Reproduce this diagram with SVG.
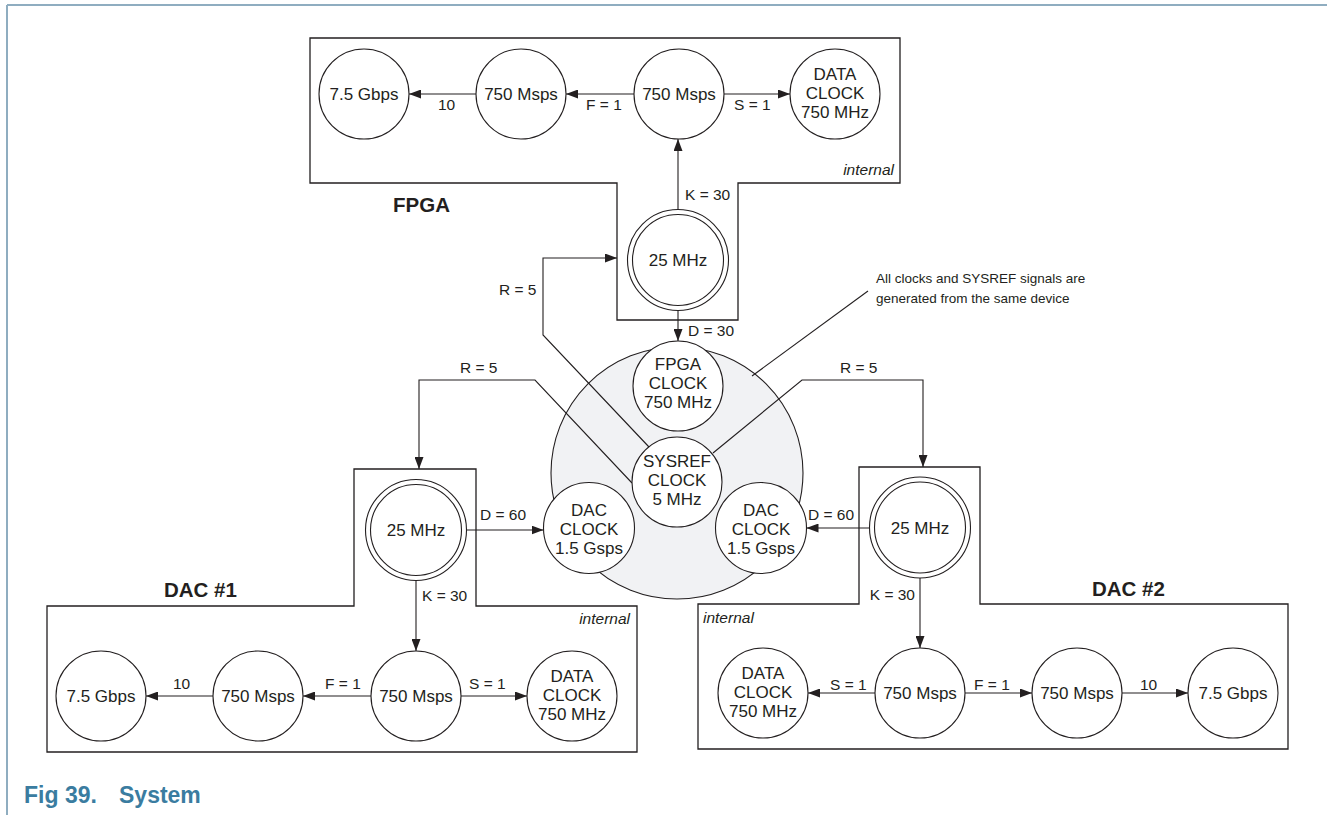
<svg xmlns="http://www.w3.org/2000/svg" width="1327" height="815" viewBox="0 0 1327 815">
<style>
.box{fill:none;stroke:#231f20;stroke-width:1.3}
.nd{fill:#fff;stroke:#231f20;stroke-width:1.1}
.big{fill:#f1f2f4;stroke:#231f20;stroke-width:1.1}
.ln{fill:none;stroke:#231f20;stroke-width:1.1}
.t{font-family:"Liberation Sans",Arial,sans-serif;font-size:17px;fill:#231f20;text-anchor:middle}
.lb{font-family:"Liberation Sans",Arial,sans-serif;font-size:15.5px;fill:#231f20}
.it{font-family:"Liberation Sans",Arial,sans-serif;font-size:15.5px;font-style:italic;fill:#231f20}
.ttl{font-family:"Liberation Sans",Arial,sans-serif;font-size:20.5px;font-weight:bold;fill:#231f20}
.ann{font-family:"Liberation Sans",Arial,sans-serif;font-size:13.5px;fill:#231f20}
.cap{font-family:"Liberation Sans",Arial,sans-serif;font-size:23px;font-weight:bold;fill:#3a7ca0}
</style>
<defs>
<marker id="ah" markerWidth="12" markerHeight="9" refX="12" refY="4.5" orient="auto" markerUnits="userSpaceOnUse">
<path d="M0,0 L12,4.5 L0,9 Z" fill="#231f20"/>
</marker>
</defs>

<g id="frame">
<line x1="7" y1="5" x2="1327" y2="5" stroke="#8fadc0" stroke-width="2"/>
<line x1="7" y1="5" x2="7" y2="815" stroke="#8fadc0" stroke-width="2"/>
</g>

<g id="fpga-box">
<path class="box" d="M310,38 H900 V183 H738 V320 H617 V183 H310 Z"/>
<text class="ttl" x="393" y="212">FPGA</text>
<text class="it" x="894" y="175" text-anchor="end">internal</text>
</g>
<g id="dac1-box">
<path class="box" d="M354,469 H476 V606 H637 V752 H47 V606 H354 Z"/>
<text class="ttl" x="164" y="597">DAC #1</text>
<text class="it" x="630" y="624" text-anchor="end">internal</text>
</g>
<g id="dac2-box">
<path class="box" d="M859,467 H980 V604 H1288 V749 H698 V604 H859 Z"/>
<text class="ttl" x="1092" y="596">DAC #2</text>
<text class="it" x="703" y="623">internal</text>
</g>

<g id="clock-device">
<circle class="big" cx="677" cy="473" r="126"/>
</g>

<g id="connectors">
<!-- FPGA -->
<line class="ln" x1="634" y1="94" x2="566" y2="94" marker-end="url(#ah)"/>
<line class="ln" x1="724" y1="94" x2="790" y2="94" marker-end="url(#ah)"/>
<line class="ln" x1="476" y1="94" x2="409" y2="94" marker-end="url(#ah)"/>
<line class="ln" x1="678" y1="209.5" x2="678" y2="139" marker-end="url(#ah)"/>
<line class="ln" x1="678" y1="310.5" x2="678" y2="341" marker-end="url(#ah)"/>
<path class="ln" d="M649,447 L543,335 L543,258 L617,258" marker-end="url(#ah)"/>
<!-- DAC1 -->
<path class="ln" d="M632,483 L535,380 L419,380 L419,469" marker-end="url(#ah)"/>
<line class="ln" x1="466.5" y1="530" x2="543.5" y2="530" marker-end="url(#ah)"/>
<line class="ln" x1="416" y1="580.5" x2="416" y2="651" marker-end="url(#ah)"/>
<line class="ln" x1="371" y1="696" x2="303" y2="696" marker-end="url(#ah)"/>
<line class="ln" x1="461" y1="696" x2="527" y2="696" marker-end="url(#ah)"/>
<line class="ln" x1="213" y1="696" x2="146" y2="696" marker-end="url(#ah)"/>
<!-- DAC2 -->
<path class="ln" d="M713,453 L802,380 L923,380 L923,467" marker-end="url(#ah)"/>
<line class="ln" x1="869.5" y1="528" x2="806.5" y2="528" marker-end="url(#ah)"/>
<line class="ln" x1="920" y1="578" x2="920" y2="648" marker-end="url(#ah)"/>
<line class="ln" x1="875" y1="693" x2="808" y2="693" marker-end="url(#ah)"/>
<line class="ln" x1="965" y1="693" x2="1032" y2="693" marker-end="url(#ah)"/>
<line class="ln" x1="1122" y1="693" x2="1188" y2="693" marker-end="url(#ah)"/>
<!-- annotation -->
<line class="ln" x1="752" y1="376" x2="868" y2="291"/>
<!-- labels -->
<text class="lb" x="586" y="110">F = 1</text>
<text class="lb" x="734" y="110">S = 1</text>
<text class="lb" x="438" y="110">10</text>
<text class="lb" x="685" y="200">K = 30</text>
<text class="lb" x="688" y="336">D = 30</text>
<text class="lb" x="499" y="295">R = 5</text>
<text class="lb" x="460" y="373">R = 5</text>
<text class="lb" x="840" y="373">R = 5</text>
<text class="lb" x="480" y="520">D = 60</text>
<text class="lb" x="422" y="601">K = 30</text>
<text class="lb" x="325" y="689">F = 1</text>
<text class="lb" x="469" y="689">S = 1</text>
<text class="lb" x="173" y="689">10</text>
<text class="lb" x="808" y="520">D = 60</text>
<text class="lb" x="915" y="600" text-anchor="end">K = 30</text>
<text class="lb" x="830" y="690">S = 1</text>
<text class="lb" x="974" y="690">F = 1</text>
<text class="lb" x="1140" y="690">10</text>
</g>

<g id="annotation">
<text class="ann" x="876" y="283">All clocks and SYSREF signals are</text>
<text class="ann" x="876" y="303">generated from the same device</text>
</g>

<!-- FPGA nodes -->
<g id="fpga-gbps"><circle class="nd" cx="364" cy="94" r="45"/><text class="t" x="364" y="100">7.5 Gbps</text></g>
<g id="fpga-msps-frame"><circle class="nd" cx="521" cy="94" r="45"/><text class="t" x="521" y="100">750 Msps</text></g>
<g id="fpga-msps"><circle class="nd" cx="679" cy="94" r="45"/><text class="t" x="679" y="100">750 Msps</text></g>
<g id="fpga-dataclk"><circle class="nd" cx="835" cy="94" r="45"/><text class="t" x="835" y="80">DATA</text><text class="t" x="835" y="99">CLOCK</text><text class="t" x="835" y="118">750 MHz</text></g>
<g id="fpga-25"><circle class="nd" cx="678" cy="260" r="50.5"/><circle class="nd" cx="678" cy="260" r="45.5"/><text class="t" x="678" y="266">25 MHz</text></g>

<!-- clock device nodes -->
<g id="fpga-clock"><circle class="nd" cx="678" cy="386" r="45"/><text class="t" x="678" y="370">FPGA</text><text class="t" x="678" y="389">CLOCK</text><text class="t" x="678" y="408">750 MHz</text></g>
<g id="sysref-clock"><circle class="nd" cx="677" cy="482" r="45"/><text class="t" x="677" y="467">SYSREF</text><text class="t" x="677" y="486">CLOCK</text><text class="t" x="677" y="505">5 MHz</text></g>
<g id="dac1-clock"><circle class="nd" cx="589" cy="528" r="45.5"/><text class="t" x="589" y="516">DAC</text><text class="t" x="589" y="535">CLOCK</text><text class="t" x="589" y="554">1.5 Gsps</text></g>
<g id="dac2-clock"><circle class="nd" cx="761" cy="528" r="45.5"/><text class="t" x="761" y="516">DAC</text><text class="t" x="761" y="535">CLOCK</text><text class="t" x="761" y="554">1.5 Gsps</text></g>

<!-- DAC1 nodes -->
<g id="dac1-25"><circle class="nd" cx="416" cy="530" r="50.5"/><circle class="nd" cx="416" cy="530" r="45.5"/><text class="t" x="416" y="536">25 MHz</text></g>
<g id="dac1-gbps"><circle class="nd" cx="101" cy="696" r="45"/><text class="t" x="101" y="702">7.5 Gbps</text></g>
<g id="dac1-msps-frame"><circle class="nd" cx="258" cy="696" r="45"/><text class="t" x="258" y="702">750 Msps</text></g>
<g id="dac1-msps"><circle class="nd" cx="416" cy="696" r="45"/><text class="t" x="416" y="702">750 Msps</text></g>
<g id="dac1-dataclk"><circle class="nd" cx="572" cy="696" r="45"/><text class="t" x="572" y="682">DATA</text><text class="t" x="572" y="701">CLOCK</text><text class="t" x="572" y="720">750 MHz</text></g>

<!-- DAC2 nodes -->
<g id="dac2-25"><circle class="nd" cx="920" cy="527.5" r="50.5"/><circle class="nd" cx="920" cy="527.5" r="45.5"/><text class="t" x="920" y="534">25 MHz</text></g>
<g id="dac2-dataclk"><circle class="nd" cx="763" cy="693" r="45"/><text class="t" x="763" y="679">DATA</text><text class="t" x="763" y="698">CLOCK</text><text class="t" x="763" y="717">750 MHz</text></g>
<g id="dac2-msps"><circle class="nd" cx="920" cy="693" r="45"/><text class="t" x="920" y="699">750 Msps</text></g>
<g id="dac2-msps-frame"><circle class="nd" cx="1077" cy="693" r="45"/><text class="t" x="1077" y="699">750 Msps</text></g>
<g id="dac2-gbps"><circle class="nd" cx="1233" cy="693" r="45"/><text class="t" x="1233" y="699">7.5 Gbps</text></g>

<g id="caption">
<text class="cap" x="24" y="803">Fig 39.</text>
<text class="cap" x="119" y="803">System</text>
</g>
</svg>
